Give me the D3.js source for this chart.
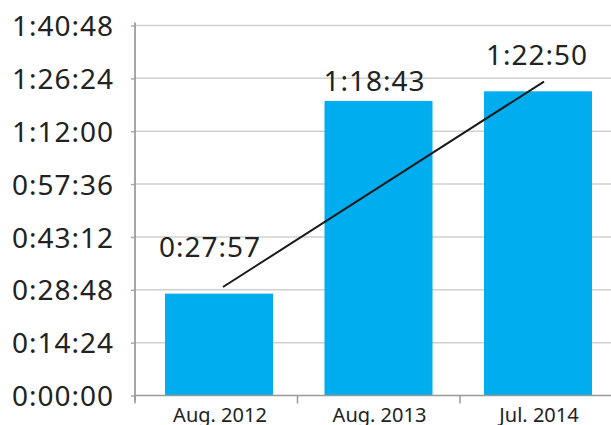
<!DOCTYPE html>
<html><head><meta charset="utf-8">
<script src="https://cdn.jsdelivr.net/npm/d3@7"></script>
<style>
html,body{margin:0;padding:0;background:#fff;}
svg{display:block;}
</style></head>
<body>
<svg id="c" width="611" height="425"></svg>
<script>
const categories = ["Aug. 2012", "Aug. 2013", "Jul. 2014"];
const barSeconds = [1665, 4815, 4972];
const valueLabels = ["0:27:57", "1:18:43", "1:22:50"];
const labelAnchorSeconds = [2264, 4977, 5402];
const yTickSeconds = [0, 864, 1728, 2592, 3456, 4320, 5184, 6048];
const trendSeconds = [1773, 5132];

(function () {
const svg = d3.select("#c");
const W = 611;
const mLeft = 135, mRight = 622.5, mTop = 25.5, mBottom = 395.5;
const FONT = "'Noto Sans', sans-serif";

// axis band scale (tick boundaries) and bar band scale (bar centres)
const x = d3.scaleBand().domain(categories).range([mLeft, mRight]).padding(0);
const xb = d3.scaleBand().domain(categories).range([139.25, 617.75]).paddingInner(0.323).paddingOuter(0.1615);
const y = d3.scaleLinear().domain([0, 6048]).range([mBottom, mTop]);
const cx = d => xb(d) + xb.bandwidth() / 2;

const fmt = s => {
  const h = Math.floor(s / 3600), m = Math.floor((s % 3600) / 60), sec = s % 60;
  return h + ":" + String(m).padStart(2, "0") + ":" + String(sec).padStart(2, "0");
};

// gridlines
svg.append("g").selectAll("line").data(yTickSeconds.slice(1)).join("line")
  .attr("x1", mLeft).attr("x2", W)
  .attr("y1", d => y(d)).attr("y2", d => y(d))
  .attr("stroke", "#d0d0d0").attr("stroke-width", 1.5);

// bars
svg.append("g").selectAll("rect").data(categories).join("rect")
  .attr("x", d => xb(d))
  .attr("width", xb.bandwidth())
  .attr("y", (d, i) => y(barSeconds[i]))
  .attr("height", (d, i) => y(0) - y(barSeconds[i]))
  .attr("fill", "#00adee");

// y axis
const ya = svg.append("g").attr("transform", `translate(${mLeft},0)`)
  .call(d3.axisLeft(y).tickValues(yTickSeconds).tickFormat(fmt).tickSize(4).tickPadding(17));
ya.select(".domain").attr("stroke", "#888").attr("stroke-width", 1.5)
  .attr("d", `M0,${mTop - 3}V${mBottom + 5}`);
ya.selectAll(".tick line").attr("stroke", "#aaa").attr("stroke-width", 1.5);
ya.selectAll(".tick text").attr("fill", "#222").attr("font-family", FONT)
  .attr("font-size", 28).attr("letter-spacing", "1px").attr("dy", "0.36em");

// x axis
const xa = svg.append("g").attr("transform", `translate(0,${mBottom})`);
xa.append("line").attr("x1", mLeft).attr("x2", W).attr("y1", 0).attr("y2", 0)
  .attr("stroke", "#999").attr("stroke-width", 1.5);
xa.selectAll("line.tk").data(categories).join("line").attr("class", "tk")
  .attr("x1", d => x(d)).attr("x2", d => x(d)).attr("y1", 0).attr("y2", 8)
  .attr("stroke", "#999").attr("stroke-width", 1.5);
xa.selectAll("text").data(categories).join("text")
  .attr("x", d => cx(d) + 1).attr("y", 26)
  .attr("text-anchor", "middle").attr("font-family", FONT).attr("font-size", 20)
  .attr("fill", "#222").text(d => d);

// value labels
const labelShift = [-9, -4, -1];
svg.append("g").selectAll("text").data(valueLabels).join("text")
  .attr("x", (d, i) => cx(categories[i]) + labelShift[i])
  .attr("y", (d, i) => y(labelAnchorSeconds[i]))
  .attr("text-anchor", "middle").attr("font-family", FONT).attr("font-size", 28)
  .attr("letter-spacing", "1px").attr("fill", "#222").text(d => d);

// trend line
svg.append("line")
  .attr("x1", cx(categories[0]) + 4).attr("y1", y(trendSeconds[0]))
  .attr("x2", cx(categories[2]) + 6).attr("y2", y(trendSeconds[1]))
  .attr("stroke", "#1a1a1a").attr("stroke-width", 2);
})();
</script>
</body></html>
